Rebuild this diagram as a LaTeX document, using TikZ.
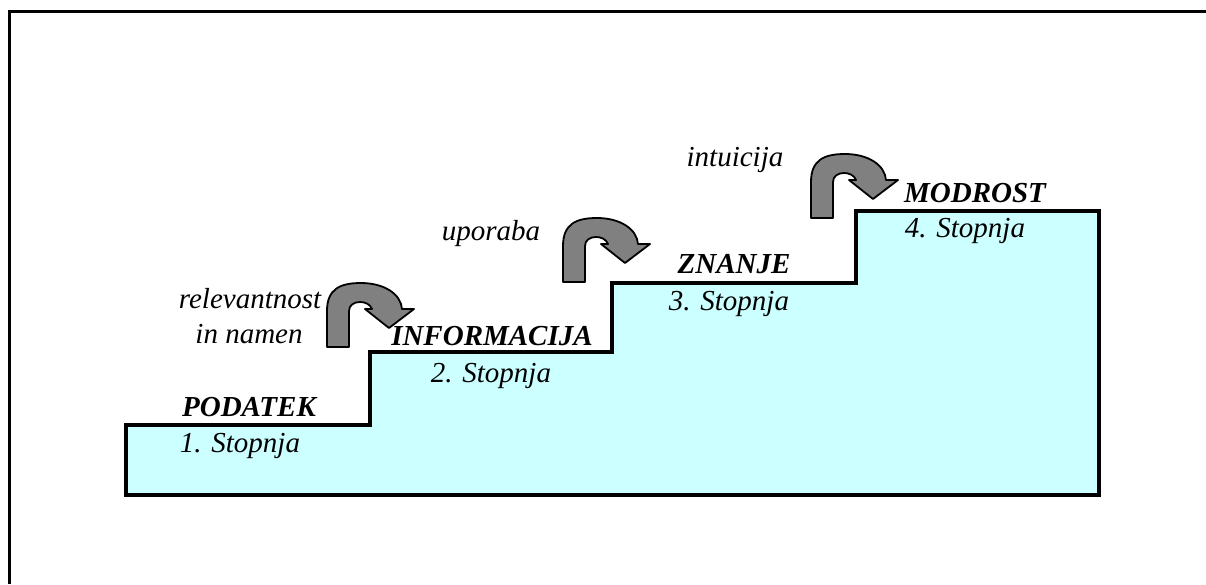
\documentclass[tikz,border=0pt]{standalone}
\usepackage{fontspec}
\setmainfont{Liberation Serif}
\definecolor{stepfill}{RGB}{204,255,255}
\definecolor{arrowgray}{RGB}{128,128,128}
\tikzset{
  label/.style={inner sep=0pt, anchor=base, font=\fontsize{29}{35}\selectfont\itshape},
  title/.style={label, font=\fontsize{29}{35}\selectfont\bfseries\itshape},
  uturn/.pic={
    \filldraw[fill=arrowgray, draw=black, line width=1.8pt, line join=round]
      (0,0) -- (0,-36)
      .. controls (0,-58) and (13,-64) .. (34,-64)
      .. controls (57,-64) and (74,-53) .. (75,-38)
      -- (87,-38) -- (62,-19) -- (38,-38) -- (45,-38)
      .. controls (43,-43) and (38,-45) .. (33,-45)
      .. controls (27,-45) and (22,-42) .. (22,-36)
      -- (22,0) -- cycle;
  }
}
\begin{document}
\begin{tikzpicture}[x=1pt,y=-1pt]
  \useasboundingbox (0,0) rectangle (1206,584);
  % outer frame (top and left edges)
  \draw[line width=3pt] (9.5,584) -- (9.5,11.5) -- (1206,11.5);

  % staircase
  \filldraw[fill=stepfill, draw=black, line width=3.2pt, line join=miter]
    (126,495) -- (126,425) -- (370,425) -- (370,352) -- (612,352)
    -- (612,283) -- (856,283) -- (856,211) -- (1099,211) -- (1099,495) -- cycle;

  % turning arrows between the steps
  \pic (turnA) at (327,347) {uturn};
  \pic (turnB) at (563,282) {uturn};
  \pic (turnC) at (811,218) {uturn};

  % step titles and numbers
  \node[title] (podatek) at (249,416) {PODATEK};
  \node[label] (st1) at (240,452) {1. Stopnja};
  \node[title] (informacija) at (492,345) {INFORMACIJA};
  \node[label] (st2) at (491,382) {2. Stopnja};
  \node[title] (znanje) at (734,273) {ZNANJE};
  \node[label] (st3) at (729,310) {3. Stopnja};
  \node[title] (modrost) at (975,202) {MODROST};
  \node[label] (st4) at (965,237) {4. Stopnja};

  % transition labels
  \node[label] (rel) at (250,308) {relevantnost};
  \node[label] (namen) at (249,343) {in namen};
  \node[label] (uporaba) at (491,240) {uporaba};
  \node[label] (intuicija) at (735,166) {intuicija};
\end{tikzpicture}
\end{document}
